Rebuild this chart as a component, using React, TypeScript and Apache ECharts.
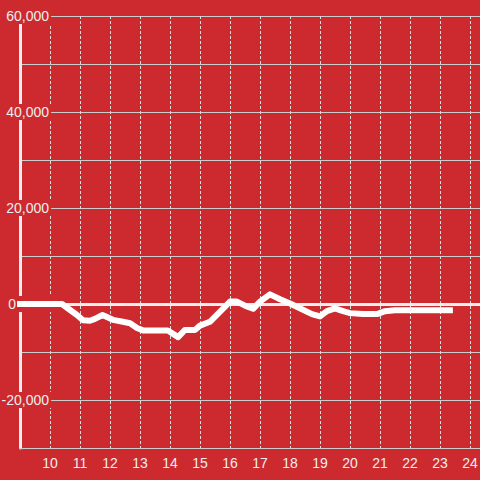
import React, { useEffect, useRef } from "react";
import * as echarts from "echarts";

const hours = [9.0, 10.33, 10.4, 10.67, 10.9, 11.1, 11.33, 11.5, 11.75, 12.1, 12.43, 12.67, 12.9, 13.1, 13.93, 14.27, 14.5, 14.83, 15.0, 15.33, 15.67, 16.0, 16.23, 16.5, 16.77, 17.0, 17.33, 17.67, 18.0, 18.33, 18.73, 19.0, 19.23, 19.5, 19.77, 20.0, 20.43, 20.9, 21.17, 21.5, 23.33];
const values = [0, 0, 0, -1250, -2300, -3400, -3500, -3100, -2300, -3300, -3700, -4000, -5000, -5500, -5500, -6900, -5400, -5400, -4500, -3700, -1600, 500, 500, -350, -1000, 500, 2000, 1000, 100, -900, -2100, -2600, -1500, -900, -1500, -1900, -2100, -2100, -1500, -1300, -1300];

const BG = "#cc2a2e";
const FONT = "'Liberation Sans', Arial, sans-serif";

export default function App() {
  const ref = useRef<HTMLDivElement>(null);
  useEffect(() => {
    if (!ref.current) return;
    const chart = echarts.init(ref.current, null, { renderer: "svg" });
    const data = hours.map((h, i) => [h, values[i]]);
    chart.setOption({
      animation: false,
      backgroundColor: BG,
      textStyle: { fontFamily: FONT },
      grid: { left: 20, right: 0, top: 16, bottom: 32, containLabel: false, outerBoundsMode: "none" },
      xAxis: [
        {
          type: "value",
          min: 9,
          max: 24.3333,
          interval: 1,
          axisLine: { onZero: false, lineStyle: { color: "#cccccc", width: 1 } },
          axisTick: { show: false },
          axisLabel: {
            color: "#eeeeee",
            fontSize: 14,
            fontFamily: FONT,
            margin: 8,
            formatter: (v: number) => (Number.isInteger(v) && v >= 10 ? String(v) : ""),
          },
          splitLine: { show: true, lineStyle: { color: "#dddddd", width: 1, type: [3, 2] } },
        },
        {
          type: "value",
          min: 9,
          max: 24.3333,
          position: "top",
          axisLine: { show: true, onZero: true, lineStyle: { color: "#eeeeee", width: 3 } },
          axisTick: { show: false },
          axisLabel: { show: false },
          splitLine: { show: false },
        },
      ],
      yAxis: {
        type: "value",
        min: -30000,
        max: 60000,
        interval: 10000,
        axisLine: { show: true, onZero: false, lineStyle: { color: "#eeeeee", width: 3 } },
        axisTick: { show: false },
        splitLine: { show: true, lineStyle: { color: "#cccccc", width: 1 } },
        axisLabel: {
          color: "#eeeeee",
          fontSize: 14,
          fontFamily: FONT,
          margin: -31,
          align: "right",
          backgroundColor: BG,
          padding: [1, 2, 1, 3],
          formatter: (v: number) => {
            if (v % 20000 !== 0 || v === -30000) return "";
            if (v === 0) return "{z|0}";
            return v.toLocaleString("en-US");
          },
          rich: {
            z: { color: "#eeeeee", fontSize: 14, fontFamily: FONT, padding: [0, 33, 0, 0] },
          },
        },
      },
      series: [
        {
          type: "line",
          xAxisIndex: 0,
          data,
          showSymbol: false,
          clip: false,
          lineStyle: { color: "#ffffff", width: 6, cap: "square", join: "round" },
          z: 5,
        },
      ],
    });
    return () => chart.dispose();
  }, []);
  return <div ref={ref} style={{ width: 480, height: 480, position: "absolute", left: 0, top: 0 }} />;
}
